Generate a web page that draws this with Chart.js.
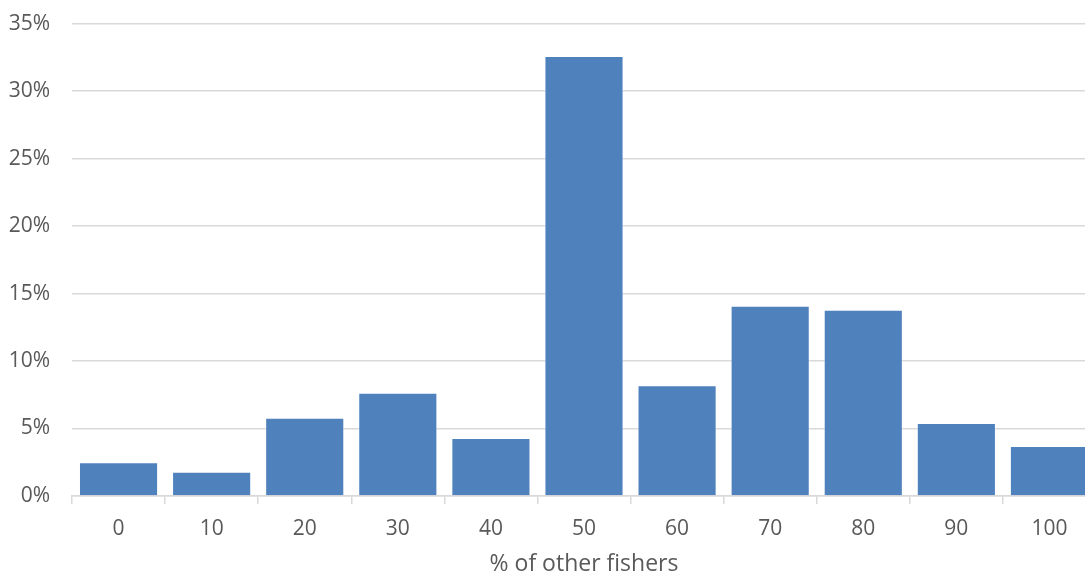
<!DOCTYPE html>
<html>
<head>
<meta charset="utf-8">
<script src="https://cdn.jsdelivr.net/npm/chart.js@4"></script>
<style>
  html, body { margin: 0; padding: 0; background: #ffffff; overflow: hidden; }
  #wrap { width: 1085px; height: 574px; overflow: hidden; position: relative; }
  canvas { position: absolute; left: 0; top: -11px; }
</style>
</head>
<body>
<div id="wrap"><canvas id="c" width="1096" height="591"></canvas></div>
<script>
// Share of respondents by the percentage of other fishers they expect to comply
const categories = ['0', '10', '20', '30', '40', '50', '60', '70', '80', '90', '100'];
const shares = [2.5, 1.8, 5.8, 7.65, 4.3, 32.6, 8.2, 14.1, 13.8, 5.4, 3.7];
const yTicks = [0, 5, 10, 15, 20, 25, 30, 35];
const xTitle = '% of other fishers';

const textColor = '#595959';
const gridColor = '#d9d9d9';
const fontFamily = '"Open Sans", "Liberation Sans", sans-serif';

new Chart(document.getElementById('c'), {
  type: 'bar',
  data: {
    labels: categories,
    datasets: [{
      data: shares,
      backgroundColor: '#4f81bd',
      borderColor: 'rgba(255,255,255,0.45)',
      borderWidth: 1,
      barPercentage: 0.85,
      categoryPercentage: 1.0
    }]
  },
  options: {
    responsive: false,
    devicePixelRatio: 1,
    animation: false,
    layout: { padding: { top: 12, right: 0, left: 0, bottom: 0 } },
    plugins: { legend: { display: false }, tooltip: { enabled: false } },
    scales: {
      x: {
        offset: true,
        grid: {
          display: true,
          offset: true,
          drawOnChartArea: false,
          drawTicks: true,
          tickLength: 8,
          color: gridColor,
          lineWidth: 1.5
        },
        border: { display: true, color: gridColor, width: 1.5 },
        ticks: {
          color: textColor,
          font: { family: fontFamily, size: 21 },
          padding: 12,
          maxRotation: 0
        },
        title: {
          display: true,
          text: xTitle,
          color: textColor,
          font: { family: fontFamily, size: 23 },
          padding: { top: 0, bottom: 2 }
        },
        afterFit(scale) { scale.height = 84; }
      },
      y: {
        min: 0,
        max: 35,
        afterBuildTicks(scale) { scale.ticks = yTicks.map(v => ({ value: v })); },
        grid: { color: gridColor, lineWidth: 1.5, drawTicks: false },
        border: { display: false },
        ticks: {
          color: textColor,
          font: { family: fontFamily, size: 21 },
          padding: 22,
          callback: v => v + '%'
        },
        afterFit(scale) { scale.width = 72; }
      }
    }
  }
});
</script>
</body>
</html>
